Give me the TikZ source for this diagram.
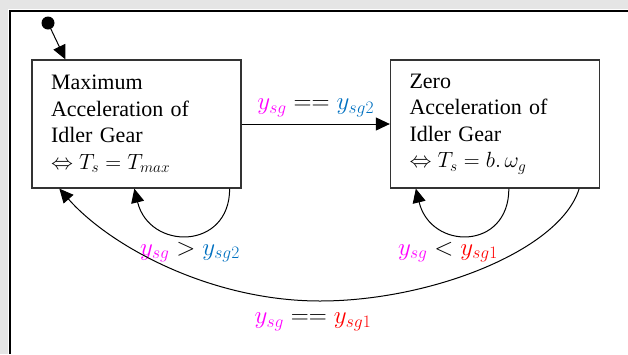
\documentclass[tikz,border=0pt]{standalone}
\usepackage{fix-cm}
\usepackage{fontspec}
\setmainfont{Liberation Serif}
\usetikzlibrary{arrows.meta,calc}
\definecolor{ysgcol}{RGB}{255,0,255}
\definecolor{yonecol}{RGB}{255,0,0}
\definecolor{ytwocol}{RGB}{0,112,192}
\newcommand{\ysg}{\textcolor{ysgcol}{y_{sg}}}
\newcommand{\ysgone}{\textcolor{yonecol}{y_{sg1}}}
\newcommand{\ysgtwo}{\textcolor{ytwocol}{y_{sg2}}}
\begin{document}
\begin{tikzpicture}[x=1pt, y=-1pt, >={Triangle[length=14pt,width=13pt]},
  state/.style={draw=black!80, line width=1.3pt, minimum width=209pt, minimum height=128pt,
    text width=171pt, align=left, inner sep=0pt, font=\fontsize{22}{26.5}\selectfont},
  trans/.style={->, line width=1pt},
  guard/.style={font=\fontsize{25}{28}\selectfont, inner sep=0pt}]
  \useasboundingbox (0,0) rectangle (628,354);
  % Frame of the page
  \fill[black!10] (0,0) rectangle (628,9);
  \fill[black!10] (0,0) rectangle (8,354);
  \draw[line width=2pt] (628,11) -- (10,11) -- (10,354);
  % States
  \node[circle, fill=black, inner sep=0pt, minimum size=13pt] (start) at (48,23) {};
  \node[state] (maxacc) at (136.5,124) {Maximum\\Acceleration of\\Idler Gear\\$\Leftrightarrow T_s = T_{max}$};
  \node[state] (zeroacc) at (495,124) {Zero\\Acceleration of\\Idler Gear\\$\Leftrightarrow T_s = b.\,\omega_g$};
  % Transitions
  \draw[trans] (start) -- ($(maxacc.north west)+(34,0)$);
  \draw[trans] (maxacc) -- (zeroacc) node[guard, midway, above=7pt] (lblfwd) {$\ysg == \ysgtwo$};
  \draw[trans] ($(maxacc.south east)+(-12,0)$) .. controls +(0,62) and +(15,62) .. ($(maxacc.south west)+(103,0)$);
  \node[guard] (lblmax) at (190,252) {$\ysg > \ysgtwo$};
  \draw[trans] ($(zeroacc.south west)+(119,0)$) .. controls +(0,62) and +(15,62) .. ($(zeroacc.south west)+(26,0)$);
  \node[guard] (lblzero) at (448,252) {$\ysg < \ysgone$};
  \coordinate (arcbot) at (320,301);
  \draw[trans] ($(zeroacc.south east)+(-21,0)$) .. controls +(-19,62) and +(110,0) .. (arcbot)
    .. controls +(-110,0) and +(50,57) .. ($(maxacc.south west)+(28,0)$);
  \node[guard] (lblback) at (313,322) {$\ysg == \ysgone$};
\end{tikzpicture}
\end{document}
